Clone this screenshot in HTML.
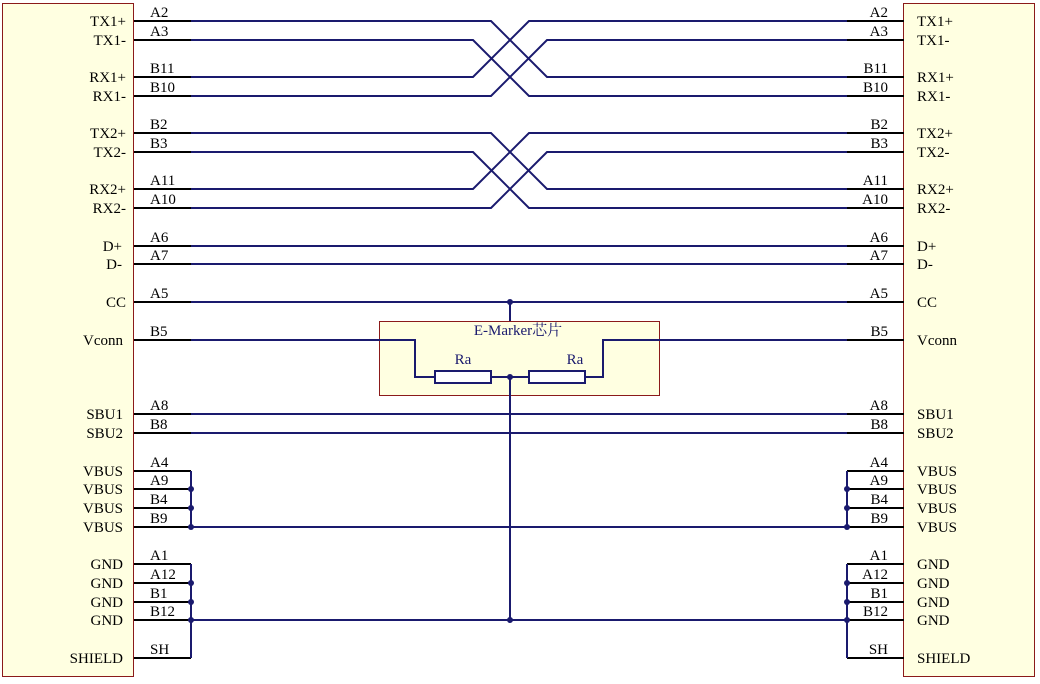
<!DOCTYPE html>
<html><head><meta charset="utf-8"><style>
html,body{margin:0;padding:0;background:#fff;}
svg{display:block;}
text{font-family:"Liberation Serif","Noto Serif CJK SC",serif;font-size:15px;fill:#000;}
.n{fill:#1a1a6e;}
</style></head><body>
<svg width="1040" height="684" viewBox="0 0 1040 684" xmlns="http://www.w3.org/2000/svg">
<rect x="2.5" y="3.5" width="131" height="673" fill="#ffffe1" stroke="#8b1a1a" stroke-width="1"/>
<rect x="903.5" y="3.5" width="131" height="673" fill="#ffffe1" stroke="#8b1a1a" stroke-width="1"/>
<rect x="379.5" y="321.5" width="280" height="74" fill="#ffffe1" stroke="#8b1a1a" stroke-width="1"/>
<text x="518" y="335" text-anchor="middle" class="n">E-Marker芯片</text>
<text x="463" y="364" text-anchor="middle" class="n">Ra</text>
<text x="575" y="364" text-anchor="middle" class="n">Ra</text>

<g stroke="#000" stroke-width="2" fill="none">
<path d="M134 21H191M134 40H191M134 77H191M134 96H191M134 133H191M134 152H191M134 189H191M134 208H191M134 246H191M134 264H191M134 302H191M134 340H191M134 414H191M134 433H191M134 471H191M134 489H191M134 508H191M134 527H191M134 564H191M134 583H191M134 602H191M134 620H191M134 658H191"/>
<path d="M847 21H904M847 40H904M847 77H904M847 96H904M847 133H904M847 152H904M847 189H904M847 208H904M847 246H904M847 264H904M847 302H904M847 340H904M847 414H904M847 433H904M847 471H904M847 489H904M847 508H904M847 527H904M847 564H904M847 583H904M847 602H904M847 620H904M847 658H904"/>
</g>
<g stroke="#1a1a6e" stroke-width="2" fill="none">
<path d="M191 21H491L547 77H847M191 40H473L529 96H847M191 77H473L529 21H847M191 96H491L547 40H847"/>
<path d="M191 133H491L547 189H847M191 152H473L529 208H847M191 189H473L529 133H847M191 208H491L547 152H847"/>
<path d="M191 246H847M191 264H847M191 302H847M191 414H847M191 433H847M191 527H847M191 620H847"/>
<path d="M191 340H415V377H435M491 377H529M585 377H603V340H847"/>
<path d="M510 302V321M510 377V620"/>
<path d="M191 471V527M191 564V658M847 471V527M847 564V658"/>
</g>
<g stroke="#1a1a6e" stroke-width="2" fill="#fff">
<rect x="435" y="371" width="56" height="12"/>
<rect x="529" y="371" width="56" height="12"/>
</g>
<g fill="#1a1a6e">
<circle cx="510" cy="302" r="3"/><circle cx="510" cy="377" r="3"/><circle cx="510" cy="620" r="3"/>
<circle cx="191" cy="489" r="3"/><circle cx="191" cy="508" r="3"/><circle cx="191" cy="527" r="3"/>
<circle cx="191" cy="583" r="3"/><circle cx="191" cy="602" r="3"/><circle cx="191" cy="620" r="3"/>
<circle cx="847" cy="489" r="3"/><circle cx="847" cy="508" r="3"/><circle cx="847" cy="527" r="3"/>
<circle cx="847" cy="583" r="3"/><circle cx="847" cy="602" r="3"/><circle cx="847" cy="620" r="3"/>
</g>

<g text-anchor="end">
<text x="126" y="26">TX1+</text><text x="126" y="45">TX1-</text><text x="126" y="82">RX1+</text><text x="126" y="101">RX1-</text>
<text x="126" y="138">TX2+</text><text x="126" y="157">TX2-</text><text x="126" y="194">RX2+</text><text x="126" y="213">RX2-</text>
<text x="122" y="251">D+</text><text x="122" y="269">D-</text><text x="126" y="307">CC</text><text x="123" y="345">Vconn</text>
<text x="123" y="419">SBU1</text><text x="123" y="438">SBU2</text>
<text x="123" y="476">VBUS</text><text x="123" y="494">VBUS</text><text x="123" y="513">VBUS</text><text x="123" y="532">VBUS</text>
<text x="123" y="569">GND</text><text x="123" y="588">GND</text><text x="123" y="607">GND</text><text x="123" y="625">GND</text>
<text x="123" y="663">SHIELD</text>
</g>
<g>
<text x="150" y="17">A2</text><text x="150" y="36">A3</text><text x="150" y="73">B11</text><text x="150" y="92">B10</text>
<text x="150" y="129">B2</text><text x="150" y="148">B3</text><text x="150" y="185">A11</text><text x="150" y="204">A10</text>
<text x="150" y="242">A6</text><text x="150" y="260">A7</text><text x="150" y="298">A5</text><text x="150" y="336">B5</text>
<text x="150" y="410">A8</text><text x="150" y="429">B8</text>
<text x="150" y="467">A4</text><text x="150" y="485">A9</text><text x="150" y="504">B4</text><text x="150" y="523">B9</text>
<text x="150" y="560">A1</text><text x="150" y="579">A12</text><text x="150" y="598">B1</text><text x="150" y="616">B12</text>
<text x="150" y="654">SH</text>
</g>
<g>
<text x="917" y="26">TX1+</text><text x="917" y="45">TX1-</text><text x="917" y="82">RX1+</text><text x="917" y="101">RX1-</text>
<text x="917" y="138">TX2+</text><text x="917" y="157">TX2-</text><text x="917" y="194">RX2+</text><text x="917" y="213">RX2-</text>
<text x="917" y="251">D+</text><text x="917" y="269">D-</text><text x="917" y="307">CC</text><text x="917" y="345">Vconn</text>
<text x="917" y="419">SBU1</text><text x="917" y="438">SBU2</text>
<text x="917" y="476">VBUS</text><text x="917" y="494">VBUS</text><text x="917" y="513">VBUS</text><text x="917" y="532">VBUS</text>
<text x="917" y="569">GND</text><text x="917" y="588">GND</text><text x="917" y="607">GND</text><text x="917" y="625">GND</text>
<text x="917" y="663">SHIELD</text>
</g>
<g text-anchor="end">
<text x="888" y="17">A2</text><text x="888" y="36">A3</text><text x="888" y="73">B11</text><text x="888" y="92">B10</text>
<text x="888" y="129">B2</text><text x="888" y="148">B3</text><text x="888" y="185">A11</text><text x="888" y="204">A10</text>
<text x="888" y="242">A6</text><text x="888" y="260">A7</text><text x="888" y="298">A5</text><text x="888" y="336">B5</text>
<text x="888" y="410">A8</text><text x="888" y="429">B8</text>
<text x="888" y="467">A4</text><text x="888" y="485">A9</text><text x="888" y="504">B4</text><text x="888" y="523">B9</text>
<text x="888" y="560">A1</text><text x="888" y="579">A12</text><text x="888" y="598">B1</text><text x="888" y="616">B12</text>
<text x="888" y="654">SH</text>
</g>
</svg>
</body></html>
